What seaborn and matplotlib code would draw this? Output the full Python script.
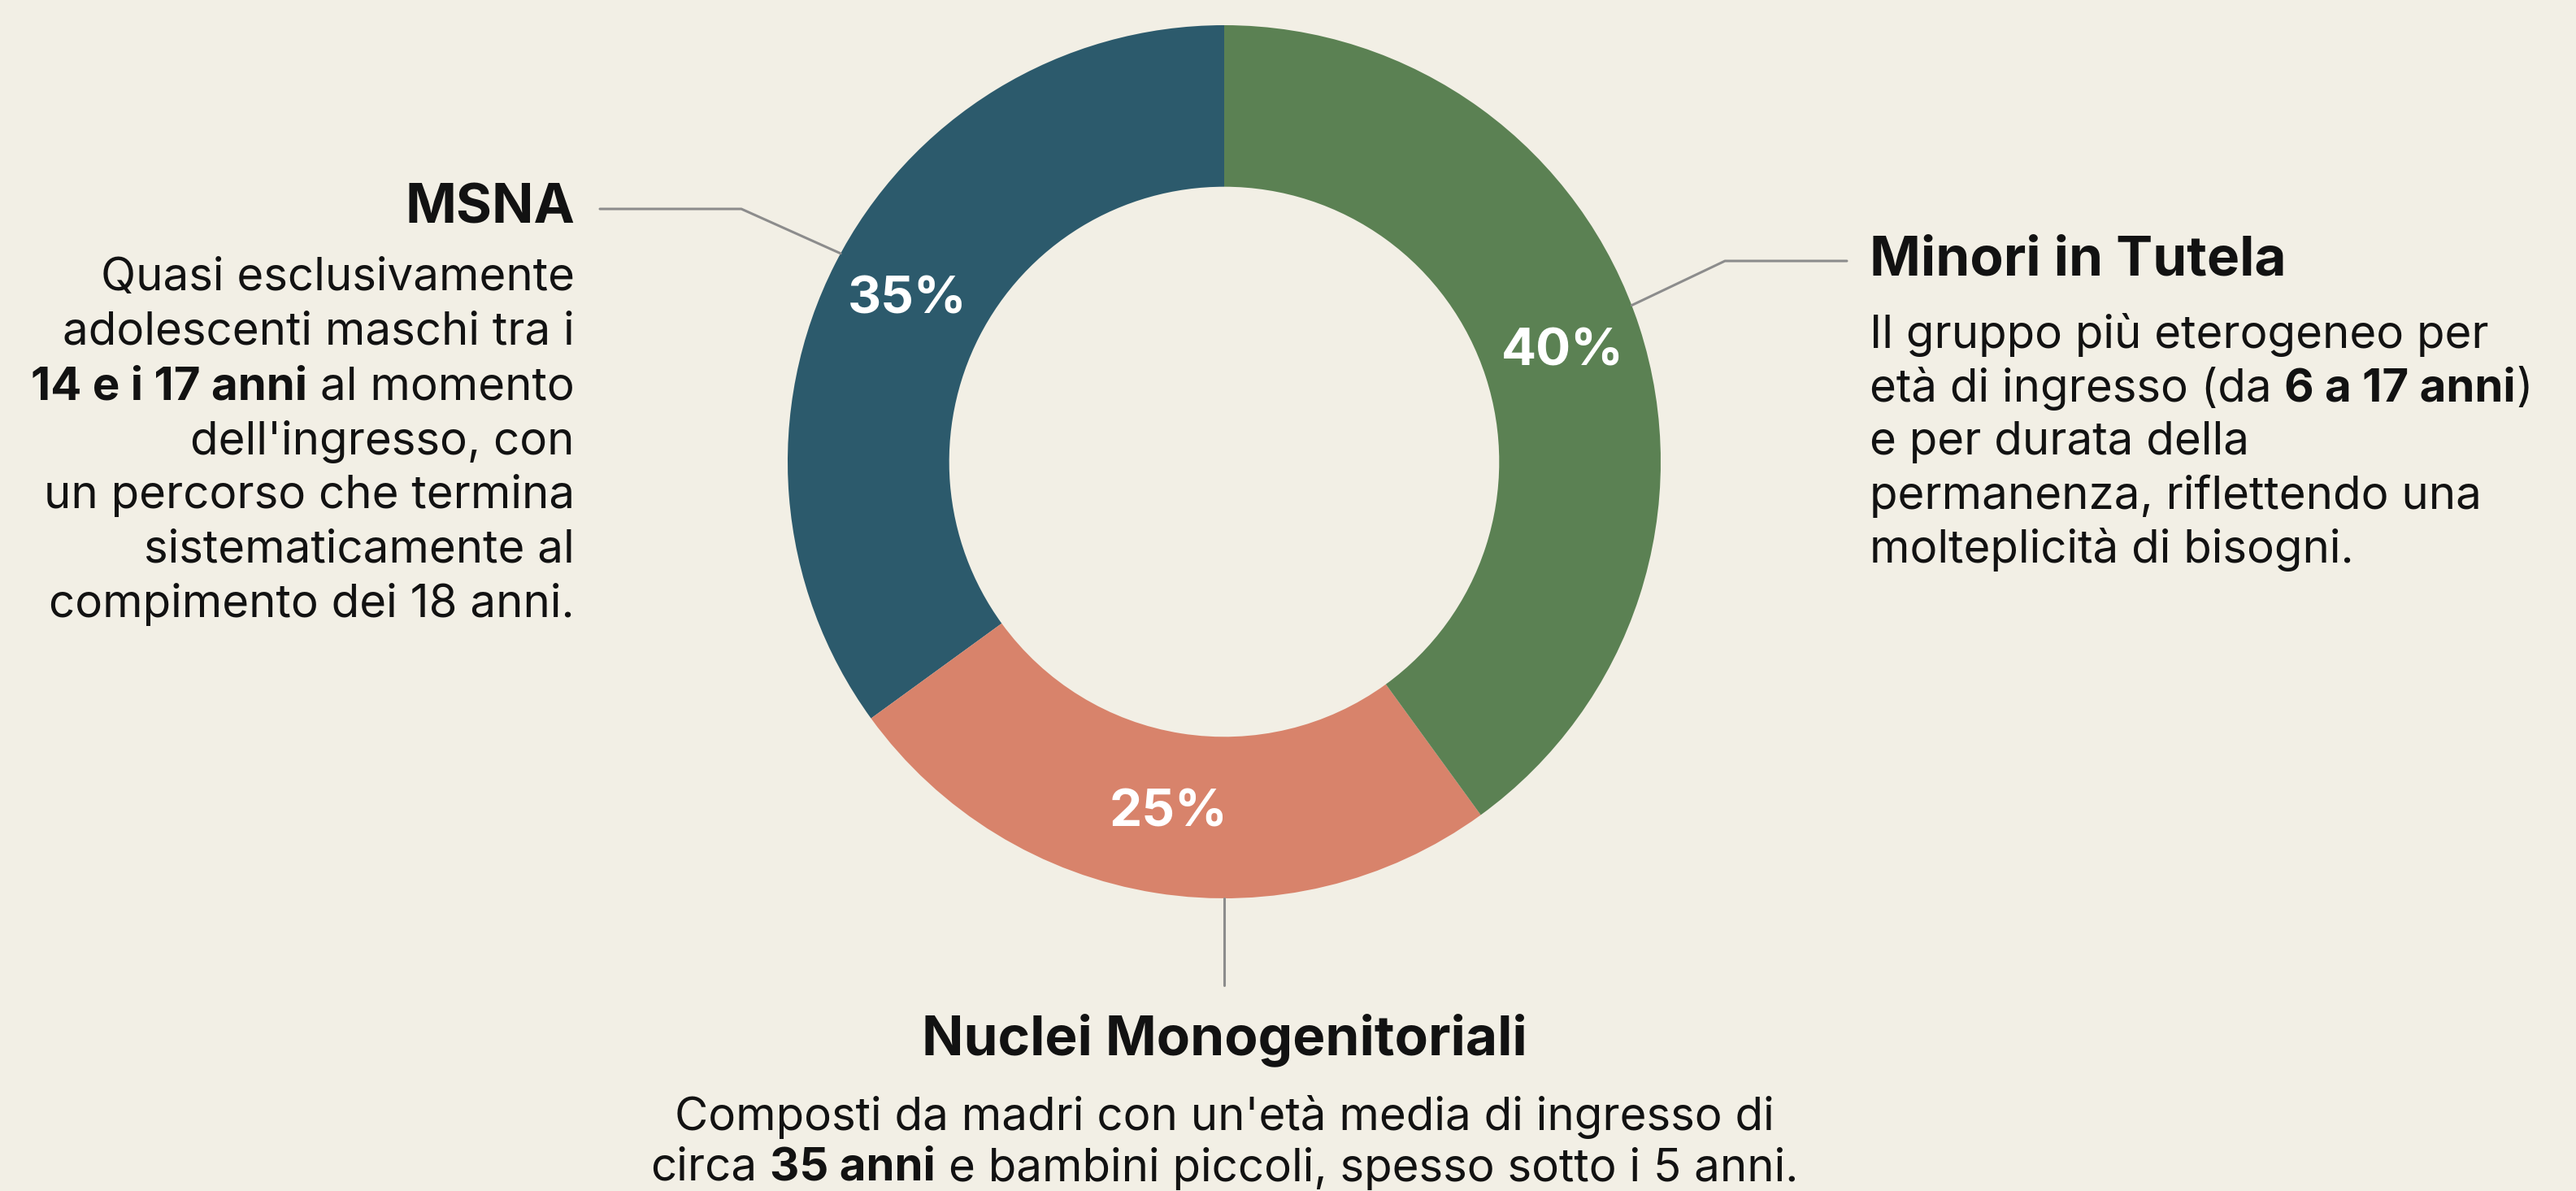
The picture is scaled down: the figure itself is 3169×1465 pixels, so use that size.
import numpy as np
import matplotlib
matplotlib.use('Agg')
import matplotlib.pyplot as plt
import seaborn as sns

sns.set_theme(style='white')
plt.rcParams['font.family'] = ['Inter', 'DejaVu Sans']

# Data
groups = ['MSNA', 'Nuclei Monogenitoriali', 'Minori in Tutela']
shares = [35, 25, 40]
group_colors = ['#2C5A6C', '#D8836B', '#5B8153']

# Descriptions: each line is a list of (text, bold) pieces
msna_desc = [
    [('Quasi esclusivamente', False)],
    [('adolescenti maschi tra i', False)],
    [('14 e i 17 anni', True), ('al momento', False)],
    [("dell'ingresso, con", False)],
    [('un percorso che termina', False)],
    [('sistematicamente al', False)],
    [('compimento dei 18 anni.', False)],
]
minori_desc = [
    [('Il gruppo più eterogeneo per', False)],
    [('età di ingresso (da', False), ('6 a 17 anni', True), (')', False, 'nospace')],
    [('e per durata della', False)],
    [('permanenza, riflettendo una', False)],
    [('molteplicità di bisogni.', False)],
]
nuclei_desc = [
    [("Composti da madri con un'età media di ingresso di", False)],
    [('circa', False), ('35 anni', True), ('e bambini piccoli, spesso sotto i 5 anni.', False)],
]

BG = '#F2EFE5'
INK = '#121212'
LINE = '#8C8C8C'
W, H = 3169, 1465
DPI = 200
cx, cy, R = 1506, 568, 537
title_fs, body_fs, pct_fs = 24.3, 20.3, 23
line_h = 67

fig = plt.figure(figsize=(W / DPI, H / DPI), dpi=DPI, facecolor=BG)

# Donut
ax = fig.add_axes([(cx - R) / W, (H - cy - R) / H, 2 * R / W, 2 * R / H])
ax.set_facecolor(BG)
wedges, _, autotexts = ax.pie(
    shares, colors=group_colors, startangle=90, counterclock=True, radius=1,
    wedgeprops=dict(width=0.37, edgecolor='none'),
    autopct=lambda p: f'{p:.0f}%', pctdistance=0.815,
    textprops=dict(color='white', fontsize=pct_fs, fontweight='bold'))
ax.set_xlim(-1, 1)
ax.set_ylim(-1, 1)
ax.set_aspect('equal')
ax.axis('off')

# Overlay in pixel coordinates for annotations
ov = fig.add_axes([0, 0, 1, 1], facecolor='none')
ov.set_xlim(0, W)
ov.set_ylim(H, 0)
ov.axis('off')
renderer = fig.canvas.get_renderer()


def text_width(s, bold):
    t = ov.text(0, 0, s, fontsize=body_fs, fontweight='bold' if bold else 'normal')
    w = t.get_window_extent(renderer).width
    t.remove()
    return w


space_w = text_width('a a', False) - text_width('aa', False)


def rich_line(x, y, pieces, ha):
    widths = [text_width(p[0], p[1]) for p in pieces]
    gaps = [0] + [0 if (len(p) > 2) else space_w for p in pieces[1:]]
    total = sum(widths) + sum(gaps)
    start = {'left': x, 'right': x - total, 'center': x - total / 2}[ha]
    pos = start
    for p, w, g in zip(pieces, widths, gaps):
        pos += g
        ov.text(pos, y, p[0], fontsize=body_fs, color=INK, ha='left', va='center',
                fontweight='bold' if p[1] else 'normal')
        pos += w


def edge_point(wedge, shift=0.0, r=R):
    th = np.deg2rad((wedge.theta1 + wedge.theta2) / 2 + shift)
    return cx + r * np.cos(th), cy - r * np.sin(th)


# MSNA (left)
ov.text(707, 257, groups[0], fontsize=title_fs, fontweight='bold', color=INK, ha='right', va='center')
for i, ln in enumerate(msna_desc):
    rich_line(707, 342 + i * line_h, ln, 'right')
ex, ey = edge_point(wedges[0], shift=-1.5)
ov.plot([738, 912, ex], [257, 257, ey], color=LINE, lw=1.1, solid_capstyle='round')

# Minori in Tutela (right)
ov.text(2300, 321, groups[2], fontsize=title_fs, fontweight='bold', color=INK, ha='left', va='center')
for i, ln in enumerate(minori_desc):
    rich_line(2300, 412 + i * 66, ln, 'left')
ex, ey = edge_point(wedges[2], shift=3)
ov.plot([ex, 2122, 2272], [ey, 321, 321], color=LINE, lw=1.1, solid_capstyle='round')

# Nuclei Monogenitoriali (bottom)
ov.plot([cx, cx], [cy + R, 1212], color=LINE, lw=1.1)
ov.text(cx, 1279, groups[1], fontsize=title_fs, fontweight='bold', color=INK, ha='center', va='center')
for i, ln in enumerate(nuclei_desc):
    rich_line(cx, 1374 + i * 63, ln, 'center')

fig.savefig('out.png', dpi=DPI, facecolor=BG)
